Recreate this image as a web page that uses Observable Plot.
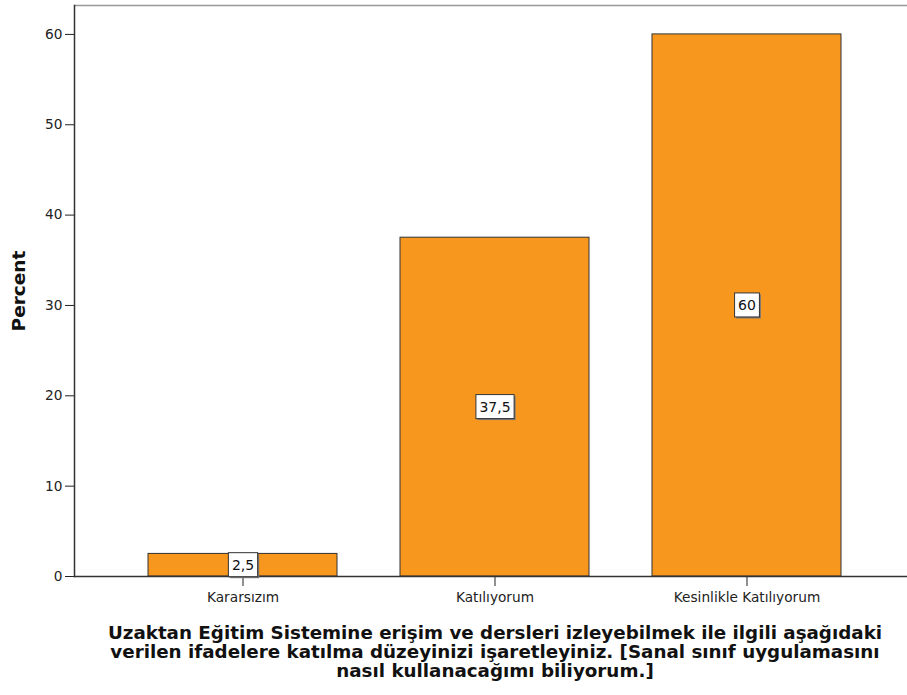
<!DOCTYPE html>
<html><head><meta charset="utf-8">
<script src="https://cdn.jsdelivr.net/npm/d3@7"></script>
<script src="https://cdn.jsdelivr.net/npm/@observablehq/plot@0.6"></script>
<style>
html,body{margin:0;padding:0;background:#fff;overflow:hidden;width:907px;height:695px;}
#chart{position:absolute;left:0;top:0;width:907px;}
#edge{position:absolute;left:893px;top:8px;width:14px;height:565px;background:#fff;}
#title{position:absolute;left:45px;width:900px;top:623px;text-align:center;font:bold 18.3px "DejaVu Sans";line-height:19px;color:#111;white-space:nowrap;}
</style></head><body>
<div id="chart"></div>
<div id="edge"></div>
<div id="title"></div>
<script>
const categories = ["Kararsızım", "Katılıyorum", "Kesinlikle Katılıyorum"];
const percents = [2.5, 37.5, 60];
const yTicks = [0, 10, 20, 30, 40, 50, 60];
const yMax = 63.2;
const yLabel = "Percent";
const titleLines = [
  "Uzaktan Eğitim Sistemine erişim ve dersleri izleyebilmek ile ilgili aşağıdaki",
  "verilen ifadelere katılma düzeyinizi işaretleyiniz. [Sanal sınıf uygulamasını",
  "nasıl kullanacağımı biliyorum.]"
];

const data = categories.map((c, i) => ({category: c, percent: percents[i]}));
const fmt = v => String(v).replace(".", ",");

const plot = Plot.plot({
  width: 907, height: 615,
  marginLeft: 74, marginRight: 0, marginTop: 5, marginBottom: 39,
  style: {fontFamily: "DejaVu Sans", fontSize: "13.7px", color: "#222", background: "#fff", overflow: "hidden"},
  x: {domain: categories, range: [74, 915], paddingInner: 0.25, paddingOuter: 0.2937, round: false, label: null, tickSize: 10, tickPadding: 6},
  y: {domain: [0, yMax], ticks: yTicks, label: null, tickSize: 9, tickPadding: 3},
  marks: [
    Plot.ruleY([yMax], {stroke: "#999", strokeWidth: 1.5}),
    Plot.barY(data, {x: "category", y: "percent", fill: "#f7971e", stroke: "#333", strokeWidth: 1}),
    Plot.ruleY([0], {stroke: "#333", strokeWidth: 1.5}),
    Plot.frame({anchor: "left", stroke: "#333", strokeWidth: 1.5}),
    Plot.text(data, {x: "category", y: d => d.percent / 2, text: d => fmt(d.percent), fontSize: 14, fill: "#111"}),
    Plot.text([yLabel], {frameAnchor: "left", textAnchor: "middle", rotate: -90, dx: -55, fontWeight: "bold", fontSize: 18.5, fill: "#111"})
  ]
});
document.getElementById("chart").appendChild(plot);
document.getElementById("title").innerHTML = titleLines.join("<br>");

// white boxes behind bar value labels
const labelSet = new Set(data.map(d => fmt(d.percent)));
plot.querySelectorAll("text").forEach(t => {
  if (!labelSet.has(t.textContent) || t.closest("[aria-label^='y-axis']") || t.closest("[aria-label^='x-axis']")) return;
  const b = t.getBBox();
  const px = 3.5, py = 4;
  const tr = t.getAttribute("transform");
  const shadow = document.createElementNS("http://www.w3.org/2000/svg", "rect");
  shadow.setAttribute("x", b.x - px + 1.5); shadow.setAttribute("y", b.y - py + 1.5);
  shadow.setAttribute("width", b.width + 2 * px); shadow.setAttribute("height", b.height + 2 * py);
  shadow.setAttribute("fill", "#777");
  const r = document.createElementNS("http://www.w3.org/2000/svg", "rect");
  r.setAttribute("x", b.x - px); r.setAttribute("y", b.y - py);
  r.setAttribute("width", b.width + 2 * px); r.setAttribute("height", b.height + 2 * py);
  r.setAttribute("fill", "#fff"); r.setAttribute("stroke", "#333"); r.setAttribute("stroke-width", 1);
  if (tr) { shadow.setAttribute("transform", tr); r.setAttribute("transform", tr); }
  t.parentNode.insertBefore(shadow, t);
  t.parentNode.insertBefore(r, t);
});
</script>
</body></html>
